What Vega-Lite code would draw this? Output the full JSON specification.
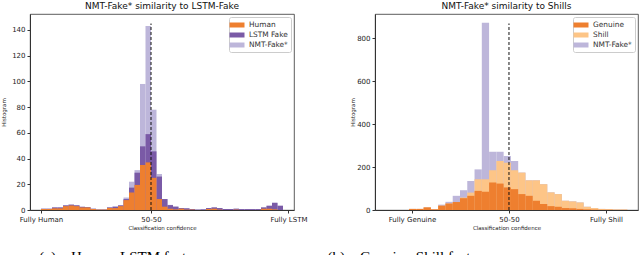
{
  "$schema": "https://vega.github.io/schema/vega-lite/v6.json",
  "padding": {"left": 1, "top": 1, "right": 0, "bottom": 0},
  "background": "white",
  "title": {"text": "(a)\u00a0\u00a0\u00a0\u00a0Human-LSTM features\u00a0\u00a0\u00a0\u00a0\u00a0\u00a0\u00a0\u00a0\u00a0\u00a0\u00a0\u00a0\u00a0\u00a0\u00a0\u00a0\u00a0\u00a0\u00a0\u00a0\u00a0\u00a0\u00a0\u00a0\u00a0\u00a0\u00a0\u00a0\u00a0\u00a0\u00a0(b)\u00a0\u00a0\u00a0\u00a0Genuine-Shill features", "orient": "bottom", "anchor": "start", "frame": "bounds", "dx": 38, "offset": 19, "font": "Liberation Serif", "fontSize": 15, "fontWeight": "normal", "color": "#000"},
  "config": {
    "font": "DejaVu Sans",
    "view": {"stroke": "#333", "strokeWidth": 0.8},
    "title": {"fontSize": 9, "fontWeight": "normal", "color": "#111", "offset": 3},
    "axis": {"grid": false, "labelFontSize": 7, "titleFontSize": 5.5, "titleFontWeight": "normal", "labelColor": "#222", "titleColor": "#222", "domainColor": "#333", "tickColor": "#333", "tickSize": 3, "labelPadding": 2, "labelFlush": false, "labelOverlap": false},
    "legend": {"orient": "top-right", "offset": 3, "padding": 3, "fillColor": "white", "strokeColor": "#ccc", "cornerRadius": 2, "labelFontSize": 7.4, "labelColor": "#333", "symbolType": "M-1.5,-0.5H1.5V0.5H-1.5Z", "symbolSize": 100, "symbolStrokeWidth": 0, "symbolOpacity": 1, "labelOffset": 7, "rowPadding": 1, "title": null}
  },
  "datasets": {
    "left": [
      {"i":0,"series":"NMT-Fake*","top":1},{"i":1,"series":"NMT-Fake*","top":1},{"i":2,"series":"NMT-Fake*","top":2},{"i":3,"series":"NMT-Fake*","top":2},{"i":4,"series":"NMT-Fake*","top":3.6},{"i":5,"series":"NMT-Fake*","top":4.3},{"i":6,"series":"NMT-Fake*","top":3.8},{"i":7,"series":"NMT-Fake*","top":2.5},{"i":8,"series":"NMT-Fake*","top":2.2},{"i":9,"series":"NMT-Fake*","top":1},{"i":10,"series":"NMT-Fake*","top":0.3},{"i":11,"series":"NMT-Fake*","top":0.3},{"i":12,"series":"NMT-Fake*","top":2},{"i":13,"series":"NMT-Fake*","top":2.6},{"i":14,"series":"NMT-Fake*","top":3.6},{"i":15,"series":"NMT-Fake*","top":9.7},{"i":16,"series":"NMT-Fake*","top":22},{"i":17,"series":"NMT-Fake*","top":31},{"i":18,"series":"NMT-Fake*","top":98},{"i":19,"series":"NMT-Fake*","top":143},{"i":20,"series":"NMT-Fake*","top":78},{"i":21,"series":"NMT-Fake*","top":28},{"i":22,"series":"NMT-Fake*","top":8.5},{"i":23,"series":"NMT-Fake*","top":4},{"i":24,"series":"NMT-Fake*","top":2.6},{"i":25,"series":"NMT-Fake*","top":1.5},{"i":26,"series":"NMT-Fake*","top":1.3},{"i":27,"series":"NMT-Fake*","top":0.8},{"i":28,"series":"NMT-Fake*","top":0.3},{"i":29,"series":"NMT-Fake*","top":0.5},{"i":30,"series":"NMT-Fake*","top":1.5},{"i":31,"series":"NMT-Fake*","top":2},{"i":32,"series":"NMT-Fake*","top":1.5},{"i":33,"series":"NMT-Fake*","top":0.8},{"i":34,"series":"NMT-Fake*","top":0.8},{"i":35,"series":"NMT-Fake*","top":1},{"i":36,"series":"NMT-Fake*","top":0.7},{"i":37,"series":"NMT-Fake*","top":0.7},{"i":38,"series":"NMT-Fake*","top":0.7},{"i":39,"series":"NMT-Fake*","top":0.7},{"i":40,"series":"NMT-Fake*","top":2},{"i":41,"series":"NMT-Fake*","top":3.3},{"i":42,"series":"NMT-Fake*","top":5.6},{"i":43,"series":"NMT-Fake*","top":3.3},
      {"i":0,"series":"LSTM Fake","top":1},{"i":1,"series":"LSTM Fake","top":1},{"i":2,"series":"LSTM Fake","top":2},{"i":3,"series":"LSTM Fake","top":2},{"i":4,"series":"LSTM Fake","top":3.6},{"i":5,"series":"LSTM Fake","top":4.1},{"i":6,"series":"LSTM Fake","top":3.6},{"i":7,"series":"LSTM Fake","top":2.5},{"i":8,"series":"LSTM Fake","top":2.2},{"i":9,"series":"LSTM Fake","top":1},{"i":10,"series":"LSTM Fake","top":0.3},{"i":11,"series":"LSTM Fake","top":0.3},{"i":12,"series":"LSTM Fake","top":2},{"i":13,"series":"LSTM Fake","top":2.6},{"i":14,"series":"LSTM Fake","top":3.6},{"i":15,"series":"LSTM Fake","top":8.5},{"i":16,"series":"LSTM Fake","top":17.4},{"i":17,"series":"LSTM Fake","top":29},{"i":18,"series":"LSTM Fake","top":49.5},{"i":19,"series":"LSTM Fake","top":59},{"i":20,"series":"LSTM Fake","top":45.6},{"i":21,"series":"LSTM Fake","top":26},{"i":22,"series":"LSTM Fake","top":8.5},{"i":23,"series":"LSTM Fake","top":3.8},{"i":24,"series":"LSTM Fake","top":2.6},{"i":25,"series":"LSTM Fake","top":1.5},{"i":26,"series":"LSTM Fake","top":1.3},{"i":27,"series":"LSTM Fake","top":0.8},{"i":28,"series":"LSTM Fake","top":0.3},{"i":29,"series":"LSTM Fake","top":0.5},{"i":30,"series":"LSTM Fake","top":1.5},{"i":31,"series":"LSTM Fake","top":2},{"i":32,"series":"LSTM Fake","top":1.5},{"i":33,"series":"LSTM Fake","top":0.8},{"i":34,"series":"LSTM Fake","top":0.8},{"i":35,"series":"LSTM Fake","top":1},{"i":36,"series":"LSTM Fake","top":0.7},{"i":37,"series":"LSTM Fake","top":0.7},{"i":38,"series":"LSTM Fake","top":0.7},{"i":39,"series":"LSTM Fake","top":0.7},{"i":40,"series":"LSTM Fake","top":2},{"i":41,"series":"LSTM Fake","top":3.3},{"i":42,"series":"LSTM Fake","top":5.6},{"i":43,"series":"LSTM Fake","top":3.3},
      {"i":0,"series":"Human","top":0.8},{"i":1,"series":"Human","top":0.8},{"i":2,"series":"Human","top":1.3},{"i":3,"series":"Human","top":1.3},{"i":4,"series":"Human","top":3},{"i":5,"series":"Human","top":3.5},{"i":6,"series":"Human","top":3},{"i":7,"series":"Human","top":2},{"i":8,"series":"Human","top":2},{"i":9,"series":"Human","top":0.8},{"i":10,"series":"Human","top":0.3},{"i":11,"series":"Human","top":0.3},{"i":12,"series":"Human","top":1.6},{"i":13,"series":"Human","top":1.5},{"i":14,"series":"Human","top":3},{"i":15,"series":"Human","top":7.7},{"i":16,"series":"Human","top":13.6},{"i":17,"series":"Human","top":19.5},{"i":18,"series":"Human","top":35},{"i":19,"series":"Human","top":37},{"i":20,"series":"Human","top":25},{"i":21,"series":"Human","top":8.5},{"i":22,"series":"Human","top":2.6},{"i":23,"series":"Human","top":1},{"i":24,"series":"Human","top":0.5},{"i":25,"series":"Human","top":1},{"i":26,"series":"Human","top":0.3},{"i":27,"series":"Human","top":0.3},{"i":30,"series":"Human","top":0.8},{"i":31,"series":"Human","top":1},{"i":32,"series":"Human","top":0.3},{"i":35,"series":"Human","top":0.3},{"i":40,"series":"Human","top":1},{"i":41,"series":"Human","top":1},{"i":42,"series":"Human","top":0.5}
    ],
    "right": [
      {"k":0,"series":"NMT-Fake*","top":5},{"k":1,"series":"NMT-Fake*","top":5},{"k":2,"series":"NMT-Fake*","top":12},{"k":3,"series":"NMT-Fake*","top":3},{"k":4,"series":"NMT-Fake*","top":25},{"k":5,"series":"NMT-Fake*","top":38},{"k":6,"series":"NMT-Fake*","top":66},{"k":7,"series":"NMT-Fake*","top":92},{"k":8,"series":"NMT-Fake*","top":135},{"k":9,"series":"NMT-Fake*","top":189},{"k":10,"series":"NMT-Fake*","top":871},{"k":11,"series":"NMT-Fake*","top":271},{"k":12,"series":"NMT-Fake*","top":271},{"k":13,"series":"NMT-Fake*","top":251},{"k":14,"series":"NMT-Fake*","top":228},{"k":15,"series":"NMT-Fake*","top":174},{"k":16,"series":"NMT-Fake*","top":138},{"k":17,"series":"NMT-Fake*","top":138},{"k":18,"series":"NMT-Fake*","top":120},{"k":19,"series":"NMT-Fake*","top":82},{"k":20,"series":"NMT-Fake*","top":74},{"k":21,"series":"NMT-Fake*","top":43},{"k":22,"series":"NMT-Fake*","top":40},{"k":23,"series":"NMT-Fake*","top":35},{"k":24,"series":"NMT-Fake*","top":15},{"k":25,"series":"NMT-Fake*","top":9},{"k":26,"series":"NMT-Fake*","top":5},{"k":27,"series":"NMT-Fake*","top":4},{"k":28,"series":"NMT-Fake*","top":3},{"k":29,"series":"NMT-Fake*","top":3},
      {"k":0,"series":"Shill","top":5},{"k":1,"series":"Shill","top":5},{"k":2,"series":"Shill","top":12},{"k":3,"series":"Shill","top":3},{"k":4,"series":"Shill","top":20},{"k":5,"series":"Shill","top":30},{"k":6,"series":"Shill","top":37},{"k":7,"series":"Shill","top":58},{"k":8,"series":"Shill","top":81},{"k":9,"series":"Shill","top":143},{"k":10,"series":"Shill","top":143},{"k":11,"series":"Shill","top":185},{"k":12,"series":"Shill","top":228},{"k":13,"series":"Shill","top":220},{"k":14,"series":"Shill","top":185},{"k":15,"series":"Shill","top":174},{"k":16,"series":"Shill","top":138},{"k":17,"series":"Shill","top":138},{"k":18,"series":"Shill","top":120},{"k":19,"series":"Shill","top":82},{"k":20,"series":"Shill","top":74},{"k":21,"series":"Shill","top":43},{"k":22,"series":"Shill","top":40},{"k":23,"series":"Shill","top":35},{"k":24,"series":"Shill","top":15},{"k":25,"series":"Shill","top":9},{"k":26,"series":"Shill","top":5},{"k":27,"series":"Shill","top":4},{"k":28,"series":"Shill","top":3},{"k":29,"series":"Shill","top":3},
      {"k":0,"series":"Genuine","top":5},{"k":1,"series":"Genuine","top":5},{"k":2,"series":"Genuine","top":12},{"k":3,"series":"Genuine","top":3},{"k":4,"series":"Genuine","top":20},{"k":5,"series":"Genuine","top":30},{"k":6,"series":"Genuine","top":37},{"k":7,"series":"Genuine","top":55},{"k":8,"series":"Genuine","top":66},{"k":9,"series":"Genuine","top":89},{"k":10,"series":"Genuine","top":85},{"k":11,"series":"Genuine","top":128},{"k":12,"series":"Genuine","top":123},{"k":13,"series":"Genuine","top":105},{"k":14,"series":"Genuine","top":97},{"k":15,"series":"Genuine","top":74},{"k":16,"series":"Genuine","top":66},{"k":17,"series":"Genuine","top":43},{"k":18,"series":"Genuine","top":28},{"k":19,"series":"Genuine","top":18},{"k":20,"series":"Genuine","top":15},{"k":21,"series":"Genuine","top":9},{"k":22,"series":"Genuine","top":8},{"k":23,"series":"Genuine","top":5},{"k":24,"series":"Genuine","top":3},{"k":25,"series":"Genuine","top":2},{"k":26,"series":"Genuine","top":1},{"k":27,"series":"Genuine","top":1}
    ]
  },
  "spacing": 42,
  "resolve": {"scale": {"color": "independent"}, "legend": {"color": "independent"}},
  "hconcat": [
    {
      "width": 264, "height": 196,
      "title": "NMT-Fake* similarity to LSTM-Fake",
      "layer": [
        {
          "data": {"name": "left"},
          "transform": [{"calculate": "-1 + 0.05 * datum.i", "as": "lo"}, {"calculate": "datum.lo + 0.05", "as": "hi"}],
          "mark": {"type": "rect"},
          "encoding": {
            "x": {"field": "lo", "type": "quantitative", "scale": {"domain": [-1.1, 1.3], "nice": false, "zero": false},
                  "axis": {"values": [-1, 0, 1.25], "labelExpr": "datum.value < -0.5 ? 'Fully Human' : (datum.value > 0.5 ? 'Fully LSTM' : '50-50')", "title": "Classification confidence", "titlePadding": 3}},
            "x2": {"field": "hi"},
            "y": {"field": "top", "type": "quantitative", "stack": null, "scale": {"domain": [0, 152.4], "nice": false},
                  "axis": {"values": [0, 20, 40, 60, 80, 100, 120, 140], "title": "Histogram", "titlePadding": 5}},
            "y2": {"datum": 0},
            "color": {"field": "series", "type": "nominal", "scale": {"domain": ["Human", "LSTM Fake", "NMT-Fake*"], "range": ["#ee7f2f", "#7a5aa6", "#bdb6da"]}}
          }
        },
        {
          "data": {"values": [{"x": 0, "y": 0, "y2": 145}]},
          "mark": {"type": "rule", "color": "#111", "strokeDash": [3, 2], "strokeWidth": 1},
          "encoding": {
            "x": {"field": "x", "type": "quantitative", "axis": {"values": [-1, 0, 1.25], "labelExpr": "datum.value < -0.5 ? 'Fully Human' : (datum.value > 0.5 ? 'Fully LSTM' : '50-50')", "title": "Classification confidence", "titlePadding": 3}},
            "y": {"field": "y", "type": "quantitative", "axis": {"values": [0, 20, 40, 60, 80, 100, 120, 140], "title": "Histogram", "titlePadding": 5}},
            "y2": {"field": "y2"}
          }
        }
      ]
    },
    {
      "width": 263, "height": 196,
      "title": "NMT-Fake* similarity to Shills",
      "layer": [
        {
          "data": {"name": "right"},
          "transform": [{"calculate": "-1.03 + 0.075 * datum.k", "as": "lo"}, {"calculate": "datum.lo + 0.075", "as": "hi"}],
          "mark": {"type": "rect"},
          "encoding": {
            "x": {"field": "lo", "type": "quantitative", "scale": {"domain": [-1.381, 1.33], "nice": false, "zero": false},
                  "axis": {"values": [-1, 0, 1], "labelExpr": "datum.value < -0.5 ? 'Fully Genuine' : (datum.value > 0.5 ? 'Fully Shill' : '50-50')", "title": "Classification confidence", "titlePadding": 3}},
            "x2": {"field": "hi"},
            "y": {"field": "top", "type": "quantitative", "stack": null, "scale": {"domain": [0, 912], "nice": false},
                  "axis": {"values": [0, 200, 400, 600, 800], "title": "Histogram", "titlePadding": 1}},
            "y2": {"datum": 0},
            "color": {"field": "series", "type": "nominal", "scale": {"domain": ["Genuine", "Shill", "NMT-Fake*"], "range": ["#ee7f2f", "#fdc587", "#bdb6da"]}}
          }
        },
        {
          "data": {"values": [{"x": 0, "y": 0, "y2": 868}]},
          "mark": {"type": "rule", "color": "#111", "strokeDash": [3, 2], "strokeWidth": 1},
          "encoding": {
            "x": {"field": "x", "type": "quantitative", "axis": {"values": [-1, 0, 1], "labelExpr": "datum.value < -0.5 ? 'Fully Genuine' : (datum.value > 0.5 ? 'Fully Shill' : '50-50')", "title": "Classification confidence", "titlePadding": 3}},
            "y": {"field": "y", "type": "quantitative", "axis": {"values": [0, 200, 400, 600, 800], "title": "Histogram", "titlePadding": 1}},
            "y2": {"field": "y2"}
          }
        }
      ]
    }
  ]
}
